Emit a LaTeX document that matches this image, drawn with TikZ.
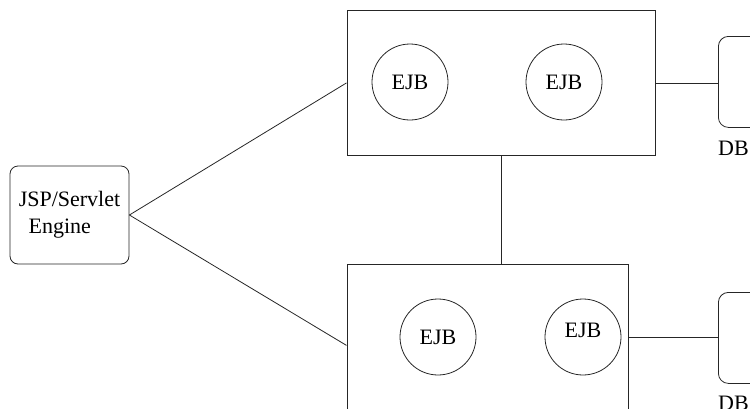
\documentclass[tikz,border=0pt]{standalone}
\usepackage{fontspec}
\setmainfont{Liberation Serif}
\begin{document}
\begin{tikzpicture}[x=1pt,y=-1pt,
  every node/.style={font=\fontsize{22}{27}\selectfont, inner sep=0pt},
  wire/.style={line width=0.8pt, draw=black!85},
  server/.style={wire, rectangle, anchor=north west},
  bean/.style={wire, circle, minimum size=76pt},
  engine/.style={wire, rounded corners=8pt, minimum width=119pt, minimum height=98pt, align=left},
  store/.style={wire, rounded corners=10pt, anchor=north west, minimum width=60pt}]
\useasboundingbox (0,0) rectangle (750,408);
\clip (0,0) rectangle (750,408);

% servlet engine
\node[engine] (jsp) at (69.5,215) {JSP/Servlet\\\hspace*{0.45em}Engine};

% application servers
\node[server, minimum width=308.5pt, minimum height=145pt] (srvA) at (346.5,10) {};
\node[server, minimum width=281.5pt, minimum height=162pt] (srvB) at (346.5,264) {};

% enterprise beans
\node[bean] (b1) at (410,82) {EJB};
\node[bean] (b2) at (564,82) {EJB};
\node[bean] (b3) at (438,337) {EJB};
\node[bean] (b4) at (583,337) {};
\node (b4t) at ([yshift=7pt]b4.center) {EJB};

% databases
\node[store, minimum height=91pt] (db1) at (718,36) {};
\node (db1t) at (733.5,148) {DB};
\node[store, minimum height=91pt] (db2) at (718,292) {};
\node (db2t) at (733.5,403) {DB};

% connections
\draw[wire] (jsp.east) -- (srvA.west);
\draw[wire] (jsp.east) -- (srvB.west);
\draw[wire] (srvA.south) -- (srvA.south |- srvB.north);
\draw[wire] (srvA.east) -- (srvA.east -| db1.west);
\draw[wire] (b4 -| srvB.east) -- (b4 -| db2.west);
\end{tikzpicture}
\end{document}
